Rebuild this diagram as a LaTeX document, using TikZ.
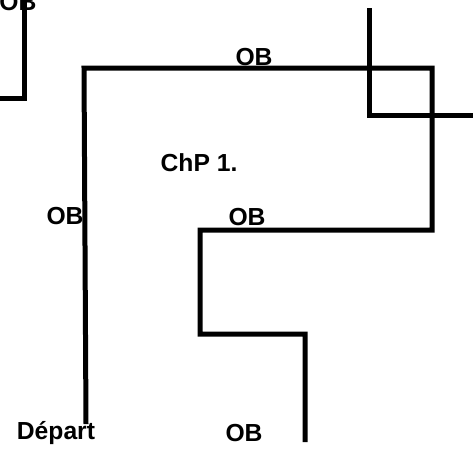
\documentclass[tikz,border=0pt]{standalone}
\usepackage{fontspec}
\setmainfont{Liberation Sans}
\tikzstyle{tag} = [font=\fontsize{18.5}{20}\selectfont\bfseries, inner sep=0pt]
\tikzstyle{wall} = [line width=3.75pt, line join=miter]
\begin{document}
\begin{tikzpicture}[x=0.75pt,y=-0.75pt]
            %
            % We start by fixing the frame
            \useasboundingbox (0,0) rectangle (473,451);
            % The corner piece at the top left
            \draw [wall] (24,-5) -- (24,98) -- (-5,98);
            % The main path, from the start to the end
            \coordinate (start) at (86,424);
            \coordinate (end) at (305,442);
            \draw [wall] (start) -- (84,68) -- (432,68) -- (432,230) -- (200,230)
                -- (200,334) -- (305,334) -- (end);
            % The crossing piece at the top right
            \draw [wall] (369,8) -- (369,115) -- (478,115);
            %
            % Then the labels
            \node [tag] (ob0) at (18,2) {OB};
            \node [tag] (obtop) at (254,57) {OB};
            \node [tag] (chp) at (199,163) {ChP 1.};
            \node [tag] (obleft) at (65,216) {OB};
            \node [tag] (obmid) at (247,217) {OB};
            \node [tag] (depart) at (56,433) {Départ};
            \node [tag] (obbot) at (244,433) {OB};
            %
        \end{tikzpicture}
\end{document}
